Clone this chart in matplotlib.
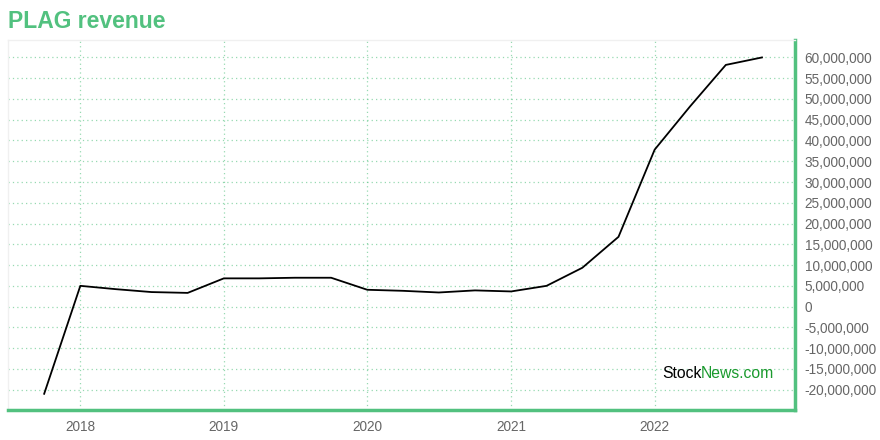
import matplotlib
matplotlib.use('Agg')
import matplotlib.pyplot as plt
import matplotlib.dates as mdates
from matplotlib.ticker import FuncFormatter, MultipleLocator
import pandas as pd

plt.rcParams['font.family'] = ['Liberation Sans', 'DejaVu Sans']

GREEN = '#52c17f'
GRAY = '#666666'

# quarterly revenue
dates = ['2017-10-01', '2018-01-01', '2018-04-01', '2018-07-01', '2018-10-01',
         '2019-01-01', '2019-04-01', '2019-07-01', '2019-10-01',
         '2020-01-01', '2020-04-01', '2020-07-01', '2020-10-01',
         '2021-01-01', '2021-04-01', '2021-07-01', '2021-10-01',
         '2022-01-01', '2022-04-01', '2022-07-01', '2022-10-01']
revenue = [-21.0e6, 5.0e6, 4.2e6, 3.5e6, 3.3e6,
           6.8e6, 6.8e6, 6.95e6, 6.95e6,
           4.05e6, 3.8e6, 3.4e6, 3.9e6,
           3.65e6, 5.0e6, 9.35e6, 16.8e6,
           37.8e6, 48.2e6, 58.2e6, 60.0e6]
year_ticks = ['2018', '2019', '2020', '2021', '2022']

x = pd.to_datetime(dates)

fig = plt.figure(figsize=(8.8, 4.4), dpi=100)
ax = fig.add_axes([8/880, 30/440, 787/880, 370/440])

ax.plot(x, revenue, color='black', lw=1.3)

ax.set_xlim(pd.Timestamp('2017-07-01'), pd.Timestamp('2022-12-24'))
ax.set_ylim(-24.9e6, 64.2e6)

ax.set_xticks(pd.to_datetime([y + '-01-01' for y in year_ticks]))
ax.xaxis.set_major_formatter(mdates.DateFormatter('%Y'))
ax.yaxis.set_major_locator(MultipleLocator(5e6))
ax.yaxis.set_major_formatter(FuncFormatter(lambda v, p: f'{int(round(v)):,}'))
ax.yaxis.tick_right()

ax.tick_params(axis='both', length=0, colors=GRAY, labelsize=9.8)
ax.tick_params(axis='y', pad=7)
ax.tick_params(axis='x', pad=7)

ax.grid(True, color=GREEN, alpha=0.6, linestyle=(0, (1, 2.5)), lw=0.9)

for s in ['top', 'left']:
    ax.spines[s].set_color('#f0f0f0')
    ax.spines[s].set_linewidth(1)
for s in ['right', 'bottom']:
    ax.spines[s].set_color(GREEN)
    ax.spines[s].set_linewidth(2.5)

fig.text(8/880, 1 - 22/440, 'PLAG revenue', color=GREEN, fontsize=16.5,
         fontweight='bold', va='center', ha='left')

ax.text(0.831, 0.1, 'Stock', transform=ax.transAxes, fontsize=11.3,
        color='black', va='center', ha='left')
ax.text(0.8805, 0.1, 'News.com', transform=ax.transAxes, fontsize=11.3,
        color='#1b9a2e', va='center', ha='left')

fig.savefig('out.png', dpi=100)
